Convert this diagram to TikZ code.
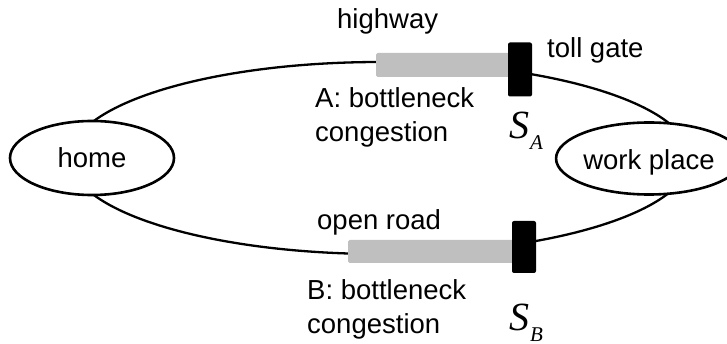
\documentclass[tikz,border=0pt]{standalone}
\usepackage{fontspec}
\setmainfont{Liberation Sans}
\newfontfamily\serifit{Liberation Serif}
\usetikzlibrary{shapes.geometric}
\tikzset{
  road/.style={line width=2.3pt, draw=black},
  place/.style={ellipse, draw=black, line width=2.6pt, fill=white, inner sep=0pt, text depth=0pt,
    font=\fontsize{27.5}{33}\selectfont},
  jam/.style={rectangle, fill=barGray, draw=none, inner sep=0pt, rounded corners=1.5pt},
  gatebox/.style={rectangle, fill=black, draw=none, inner sep=0pt, rounded corners=2pt,
    minimum width=24pt, minimum height=54pt},
  lbl/.style={anchor=base west, inner sep=0pt, font=\fontsize{27.5}{33}\selectfont},
  sym/.style={anchor=base west, inner sep=0pt}
}
\definecolor{barGray}{HTML}{BFBFBF}
\newcommand{\tollsym}[1]{\serifit\itshape\fontsize{40}{40}\selectfont S\kern1pt\raisebox{-11pt}{\fontsize{21}{21}\selectfont #1}}
\begin{document}
\begin{tikzpicture}[x=1pt, y=-1pt]
\useasboundingbox (0,0) rectangle (727,344);
% main loop (two roads)
\coordinate (loopc) at (380,158);
\draw[road] (loopc) ellipse [x radius=310, y radius=96];
% congestion bars
\node[jam, minimum width=133pt, minimum height=24pt] (barA) at (442.5,65) {};
\node[jam, minimum width=165pt, minimum height=23pt] (barB) at (430.5,251.5) {};
% toll gates
\node[gatebox] (gateA) at (520,69.5) {};
\node[gatebox, minimum height=52pt] (gateB) at (524,247) {};
% places
\node[place, minimum width=164pt, minimum height=74pt] (home) at (92,158) {home};
\node[place, minimum width=152pt, minimum height=72pt] (work) at (649,158.5) {\raisebox{-2.5pt}{work place}};
% labels
\node[lbl] (hw) at (337,29) {highway};
\node[lbl] (tg) at (547,58) {toll gate};
\node[lbl] (aone) at (315,108) {A: bottleneck};
\node[lbl] (atwo) at (315,142) {congestion};
\node[lbl] (orr) at (317,230) {open road};
\node[lbl] (bone) at (307,299) {B: bottleneck};
\node[lbl] (btwo) at (307,333) {congestion};
% symbols
\node[sym] (sa) at (509,139) {\tollsym{A}};
\node[sym] (sb) at (509,330) {\tollsym{B}};
\end{tikzpicture}
\end{document}
